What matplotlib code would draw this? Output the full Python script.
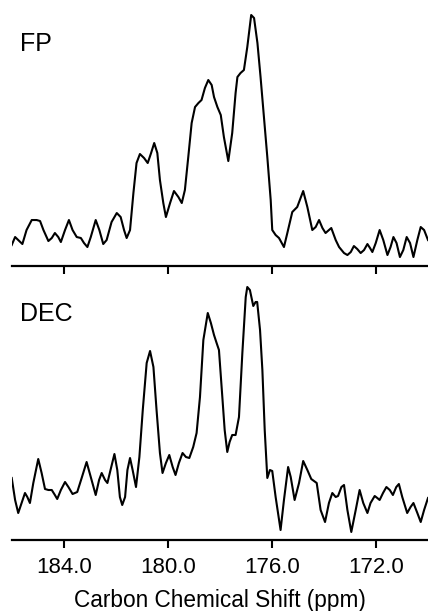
import matplotlib
matplotlib.use('Agg')
import matplotlib.pyplot as plt

plt.rcParams['font.family'] = ['Liberation Sans', 'DejaVu Sans']

# ------------------------------------------------------------------
# Spectra (ppm, intensity in arbitrary units)
# ------------------------------------------------------------------
fp_ppm = [186.01, 185.88, 185.60, 185.44, 185.24, 185.05, 184.92, 184.79,
          184.60, 184.47, 184.35, 184.22, 184.12, 183.96, 183.81, 183.67,
          183.51, 183.35, 183.23, 183.10, 182.97, 182.78, 182.64, 182.49,
          182.36, 182.17, 181.97, 181.82, 181.69, 181.59, 181.46, 181.33,
          181.21, 181.08, 180.92, 180.78, 180.65, 180.53, 180.41, 180.31,
          180.18, 180.08, 179.92, 179.77, 179.60, 179.47, 179.35, 179.22,
          179.09, 178.96, 178.83, 178.71, 178.58, 178.45, 178.32, 178.23,
          178.10, 177.97, 177.85, 177.68, 177.53, 177.40, 177.33, 177.21,
          177.08, 176.95, 176.80, 176.69, 176.56, 176.44, 176.31, 176.18,
          176.05, 175.99, 175.86, 175.73, 175.54, 175.41, 175.22, 175.03,
          174.80, 174.64, 174.45, 174.32, 174.19, 174.06, 173.94, 173.81,
          173.72, 173.55, 173.42, 173.23, 173.10, 172.97, 172.85, 172.72,
          172.59, 172.46, 172.33, 172.23, 172.14, 172.01, 171.86, 171.72,
          171.56, 171.44, 171.33, 171.21, 171.08, 170.95, 170.82, 170.69,
          170.56, 170.41, 170.28, 170.15, 170.00]
fp_int = [21, 29, 22, 36, 46, 46, 45, 36,
          25, 28, 33, 29, 24, 36, 46, 36,
          29, 28, 23, 19, 29, 46, 36, 22,
          26, 44, 53, 49, 36, 28, 36, 73,
          103, 112, 108, 103, 113, 123, 113, 86,
          63, 49, 63, 75, 69, 63, 76, 109,
          143, 159, 163, 166, 178, 186, 181, 169,
          159, 151, 129, 105, 133, 173, 189, 193,
          196, 219, 251, 248, 223, 189, 149, 109,
          66, 36, 31, 28, 19, 33, 54, 59,
          75, 59, 36, 39, 46, 38, 33, 36,
          38, 26, 19, 13, 11, 14, 20, 17,
          13, 16, 22, 18, 14, 23, 36, 26,
          11, 19, 29, 23, 9, 16, 29, 23,
          9, 26, 39, 36, 26]

dec_ppm = [186.01, 185.88, 185.76, 185.63, 185.50, 185.41, 185.31, 185.18,
           184.99, 184.86, 184.73, 184.60, 184.47, 184.35, 184.26, 184.12,
           183.96, 183.83, 183.67, 183.49, 183.32, 183.13, 182.97, 182.78,
           182.65, 182.55, 182.42, 182.33, 182.21, 182.06, 181.95, 181.85,
           181.76, 181.65, 181.56, 181.46, 181.36, 181.23, 181.10, 180.97,
           180.82, 180.69, 180.56, 180.44, 180.31, 180.21, 180.08, 179.95,
           179.82, 179.71, 179.58, 179.44, 179.31, 179.18, 179.03, 178.90,
           178.77, 178.64, 178.47, 178.35, 178.23, 178.13, 178.04, 177.91,
           177.82, 177.72, 177.63, 177.53, 177.40, 177.27, 177.14, 177.01,
           176.95, 176.85, 176.72, 176.63, 176.57, 176.46, 176.37, 176.28,
           176.18, 176.08, 175.99, 175.86, 175.67, 175.54, 175.38, 175.28,
           175.13, 174.96, 174.80, 174.64, 174.49, 174.28, 174.13, 173.96,
           173.81, 173.68, 173.55, 173.46, 173.33, 173.23, 173.10, 172.95,
           172.78, 172.63, 172.49, 172.33, 172.21, 172.05, 171.95, 171.86,
           171.73, 171.60, 171.47, 171.35, 171.22, 171.12, 170.99, 170.80,
           170.67, 170.56, 170.41, 170.28, 170.15, 170.00]
dec_int = [62, 40, 27, 37, 47, 43, 37, 57,
           81, 67, 51, 50, 50, 45, 41, 50,
           58, 53, 46, 48, 62, 78, 63, 45,
           60, 67, 60, 57, 70, 86, 70, 43,
           35, 43, 70, 82, 70, 53, 83, 130,
           177, 189, 173, 130, 87, 67, 77, 85,
           73, 65, 77, 87, 83, 82, 93, 107,
           143, 200, 227, 217, 205, 197, 190, 143,
           110, 88, 98, 105, 105, 123, 187, 243,
           253, 250, 234, 238, 238, 210, 170, 110,
           62, 70, 69, 43, 10, 40, 73, 63,
           40, 57, 79, 70, 61, 57, 30, 18,
           37, 47, 43, 44, 53, 55, 30, 8,
           30, 50, 37, 27, 37, 44, 42, 40,
           47, 53, 50, 45, 53, 56, 43, 27,
           33, 37, 27, 18, 30, 42]

tick_pos = [184.0, 180.0, 176.0, 172.0]
tick_lbl = ['184.0', '180.0', '176.0', '172.0']

fig = plt.figure(figsize=(4.28, 6.11), dpi=100)
ax1 = fig.add_axes([0.028, 0.5646, 0.972, 0.4354])
ax2 = fig.add_axes([0.028, 0.1162, 0.972, 0.4419])

for ax, x, y, name, ytop in [(ax1, fp_ppm, fp_int, 'FP', 266),
                             (ax2, dec_ppm, dec_int, 'DEC', 270)]:
    ax.plot(x, y, color='black', linewidth=1.5, solid_joinstyle='round')
    ax.set_xlim(186.0, 170.0)
    ax.set_ylim(0, ytop)
    for s in ['top', 'left', 'right']:
        ax.spines[s].set_visible(False)
    ax.spines['bottom'].set_linewidth(1.6)
    ax.set_yticks([])
    ax.set_xticks(tick_pos)
    ax.tick_params(axis='x', direction='out', length=6, width=1.5,
                   labelsize=16, pad=6)
    ax.text(0.02, 0.81, name, transform=ax.transAxes, fontsize=18,
            ha='left', va='baseline')
    ax.patch.set_alpha(0)

ax1.set_xticklabels([])
ax2.set_xticklabels(tick_lbl)
ax2.set_xlabel('Carbon Chemical Shift (ppm)', fontsize=16.3, labelpad=8)

fig.savefig('out.png', dpi=100)
